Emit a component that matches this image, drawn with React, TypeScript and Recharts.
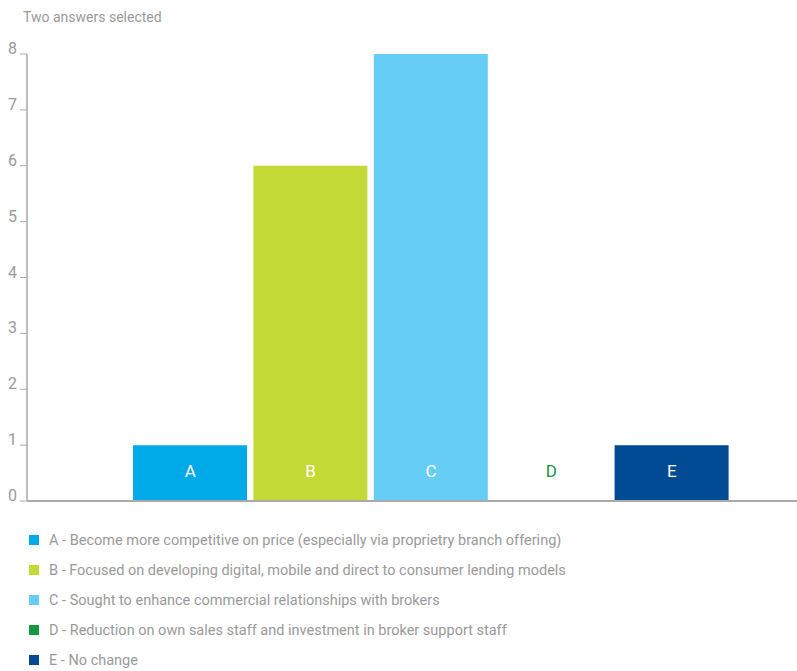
import React from 'react';
import { BarChart, Bar, XAxis, YAxis, Cell, Legend } from 'recharts';

const categories = ['A', 'B', 'C', 'D', 'E'];
const counts = [1, 6, 8, 0, 1];
const descriptions = [
  'A - Become more competitive on price (especially via proprietry branch offering)',
  'B - Focused on developing digital, mobile and direct to consumer lending models',
  'C - Sought to enhance commercial relationships with brokers',
  'D - Reduction on own sales staff and investment in broker support staff',
  'E - No change',
];
const yTicks = [0, 1, 2, 3, 4, 5, 6, 7, 8];

const colors = ['#00a9e7', '#c3d935', '#66cdf5', '#12983f', '#004b93'];
const FONT = 'Roboto, "Open Sans", sans-serif';
const GREY = '#9a9a9a';

const data = categories.map((c, i) => ({ name: c, value: counts[i] }));

const YTick = (props: any) => {
  const { y, payload } = props;
  return (
    <text x={17} y={y} textAnchor="end" fill={GREY} fontSize={16} fontFamily={FONT}>
      {payload.value}
    </text>
  );
};

// category letters sit inside the bars, just above the baseline
const XTick = (props: any) => {
  const { x, y, payload, index } = props;
  return (
    <text
      x={x}
      y={Number(y) - 26}
      textAnchor="middle"
      fill={counts[index] === 0 ? colors[index] : '#ffffff'}
      fontSize={17}
      fontFamily={FONT}
    >
      {payload.value}
    </text>
  );
};

const LegendList = () => (
  <div style={{ fontFamily: FONT, fontSize: 14.5, color: GREY }}>
    {descriptions.map((d, i) => (
      <div key={i} style={{ height: 30, display: 'flex', alignItems: 'center' }}>
        <span style={{ width: 10, height: 10, background: colors[i], display: 'inline-block', marginRight: 10 }} />
        <span>{d}</span>
      </div>
    ))}
  </div>
);

export default function App() {
  return (
    <div style={{ position: 'absolute', left: 0, top: 0, width: 797, height: 671, background: '#fff' }}>
      <div style={{ position: 'absolute', left: 23, top: 9, fontFamily: FONT, fontSize: 14, color: GREY }}>
        Two answers selected
      </div>
      <BarChart width={797} height={671} data={data} margin={{ top: 54, right: 0, left: 0, bottom: 160 }}>
        <YAxis
          width={27}
          domain={[0, 8]}
          ticks={yTicks}
          tickSize={7}
          tick={<YTick />}
          tickLine={{ stroke: '#aaaaaa' }}
          axisLine={{ stroke: '#aaaaaa', strokeWidth: 1.5 }}
        />
        <Legend
          layout="horizontal"
          verticalAlign="middle"
          align="center"
          wrapperStyle={{ top: 525, left: 29, width: 760 }}
          content={<LegendList />}
        />
        <Bar dataKey="value" barSize={114} isAnimationActive={false}>
          {data.map((d, i) => (
            <Cell key={d.name} fill={colors[i]} />
          ))}
        </Bar>
        <XAxis
          dataKey="name"
          height={10}
          tick={<XTick />}
          tickLine={false}
          tickSize={0}
          axisLine={{ stroke: '#aaaaaa', strokeWidth: 2 }}
          padding={{ left: 103, right: 65 }}
        />
      </BarChart>
    </div>
  );
}
